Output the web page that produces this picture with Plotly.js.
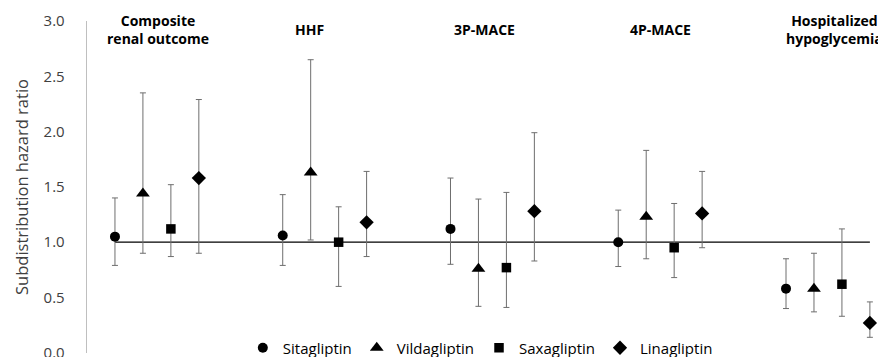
<!DOCTYPE html>
<html>
<head>
<meta charset="utf-8">
<script src="https://cdn.plot.ly/plotly-3.0.1.min.js"></script>
<style>html,body{margin:0;padding:0;background:#fff;}#chart{width:878px;height:357px;}</style>
</head>
<body>
<div id="chart"></div>
<script>
// Outcome groups (category labels)
const outcomes = ["Composite<br>renal outcome", "HHF", "3P-MACE", "4P-MACE", "Hospitalized<br>hypoglycemia"];
const drugs = ["Sitagliptin", "Vildagliptin", "Saxagliptin", "Linagliptin"];
const symbols = ["circle", "triangle-up", "square", "diamond"];

// Subdistribution hazard ratios (point estimates) per drug, by outcome
const sitaHR    = [1.05, 1.06, 1.12, 1.00, 0.58];
const sitaLow   = [0.79, 0.79, 0.80, 0.78, 0.40];
const sitaHigh  = [1.40, 1.43, 1.58, 1.29, 0.85];

const vildaHR   = [1.44, 1.63, 0.76, 1.23, 0.58];
const vildaLow  = [0.90, 1.02, 0.42, 0.85, 0.37];
const vildaHigh = [2.35, 2.65, 1.39, 1.83, 0.90];

const saxaHR    = [1.12, 1.00, 0.77, 0.95, 0.62];
const saxaLow   = [0.87, 0.60, 0.41, 0.68, 0.33];
const saxaHigh  = [1.52, 1.32, 1.45, 1.35, 1.12];

const linaHR    = [1.58, 1.18, 1.28, 1.26, 0.27];
const linaLow   = [0.90, 0.87, 0.83, 0.95, 0.14];
const linaHigh  = [2.29, 1.64, 1.99, 1.64, 0.46];

const refValue = 1.0;

const series = [
  [sitaHR, sitaLow, sitaHigh],
  [vildaHR, vildaLow, vildaHigh],
  [saxaHR, saxaLow, saxaHigh],
  [linaHR, linaLow, linaHigh]
];

// slot layout: each outcome group takes 6 slots, drug m at slot 6g+m+1
const pos = (g, m) => 6 * g + m + 1;
const markerSizes = [10, 12, 9.5, 11];

const traces = [];
// reference line at HR = 1 spanning first to last point
traces.push({
  x: [pos(0, 0), pos(outcomes.length - 1, drugs.length - 1)],
  y: [refValue, refValue],
  mode: "lines",
  line: {color: "#000", width: 1.3},
  showlegend: false,
  hoverinfo: "skip"
});

series.forEach((s, m) => {
  const [hr, lo, hi] = s;
  traces.push({
    name: drugs[m],
    x: hr.map((_, g) => pos(g, m)),
    y: hr,
    mode: "markers",
    type: "scatter",
    marker: {symbol: symbols[m], color: "#000", size: markerSizes[m]},
    error_y: {
      type: "data", symmetric: false,
      array: hr.map((v, i) => hi[i] - v),
      arrayminus: hr.map((v, i) => v - lo[i]),
      color: "#6e6e6e", thickness: 1, width: 3
    }
  });
});

const labelX = [2.55, 7.95, 14.2, 20.5, 26.75];
const labelY = [1.035, 1.008, 1.008, 1.008, 1.035];

const layout = {
  width: 878, height: 357,
  margin: {l: 87, r: 0, t: 21, b: 4, autoexpand: false},
  paper_bgcolor: "#fff", plot_bgcolor: "#fff",
  font: {family: "Open Sans, sans-serif", color: "#000"},
  xaxis: {
    range: [0, 28.29], showgrid: false, zeroline: false,
    showticklabels: false, showline: false, ticks: ""
  },
  yaxis: {
    range: [-0.002, 3.0], tickvals: [0, 0.5, 1, 1.5, 2, 2.5, 3], tickformat: ".1f",
    showgrid: false, zeroline: false,
    showline: true, linecolor: "#bfbfbf", linewidth: 1.3,
    ticks: "", ticklabelstandoff: 18, ticklabeloverflow: "allow",
    tickfont: {size: 15, color: "#404040"},
    title: {text: "Subdistribution hazard ratio", font: {size: 16.5, color: "#404040"}, standoff: 10}
  },
  showlegend: true,
  legend: {
    orientation: "h", x: 0.197, xanchor: "left", y: 0.015, yanchor: "middle",
    font: {size: 15, color: "#000"}, bgcolor: "rgba(0,0,0,0)",
    itemwidth: 30, tracegroupgap: 0
  },
  annotations: outcomes.map((t, i) => ({
    text: "<b>" + t + "</b>", x: labelX[i], y: labelY[i], xref: "x", yref: "paper",
    yanchor: "top", showarrow: false, font: {size: 14, color: "#000"}, align: "center"
  }))
};

Plotly.newPlot("chart", traces, layout, {staticPlot: true});
</script>
</body>
</html>
